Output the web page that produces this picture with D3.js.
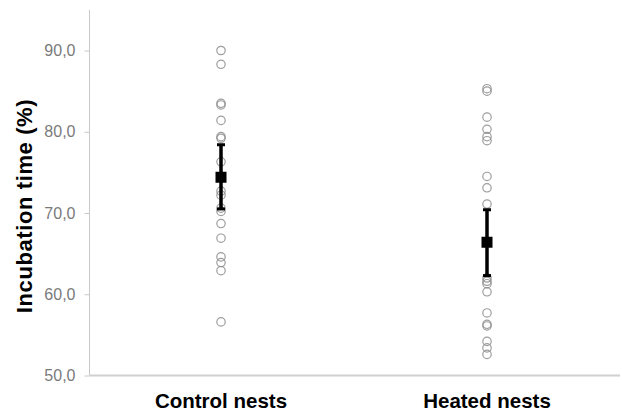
<!DOCTYPE html>
<html><head><meta charset="utf-8">
<script src="https://cdn.jsdelivr.net/npm/d3@7"></script>
<style>body{margin:0;background:#fff}svg{display:block}text{font-family:"Liberation Sans",Arial,sans-serif}</style>
</head><body><svg id="c" width="622" height="414"></svg>
<script>
const categories = ["Control nests", "Heated nests"];
const controlValues = [90.0, 88.3, 83.5, 83.3, 81.4, 79.4, 79.2, 76.3, 74.4, 72.7, 72.2, 70.6, 70.2, 68.7, 66.9, 64.6, 63.9, 62.9, 56.6];
const heatedValues = [85.3, 85.0, 81.8, 80.3, 79.4, 78.9, 74.5, 73.1, 71.1, 62.0, 61.6, 61.3, 60.3, 57.7, 56.3, 56.1, 54.2, 53.4, 52.6];
const means = [74.4, 66.4];
const errLow = [70.5, 62.3];
const errHigh = [78.4, 70.4];
const yTicks = [50, 60, 70, 80, 90];

const svg = d3.select("#c");
const y = d3.scaleLinear().domain([50, 90]).range([375.5, 50.5]);
const x = d3.scalePoint().domain(categories).range([221, 487]);

// axes lines
svg.append("line").attr("x1", 89.5).attr("x2", 89.5).attr("y1", y(95)).attr("y2", y(50))
  .attr("stroke", "#c8c8c8").attr("stroke-width", 1);
svg.append("line").attr("x1", 89.5).attr("x2", 620).attr("y1", y(50)).attr("y2", y(50))
  .attr("stroke", "#d0d0d0").attr("stroke-width", 2);

const yAxis = d3.axisLeft(y).tickValues(yTicks).tickSize(5).tickPadding(9)
  .tickFormat(d => d3.format(".1f")(d).replace(".", ","));
const gy = svg.append("g").attr("transform", "translate(89.5,0)").call(yAxis);
gy.select(".domain").remove();
gy.selectAll(".tick line").attr("stroke", "#c8c8c8");
gy.selectAll(".tick text").attr("fill", "#7a7a7a").style("font-size", "16px")
  .style("font-family", "'Liberation Sans',Arial,sans-serif");

// category labels
svg.selectAll(".cat").data(categories).enter().append("text")
  .attr("x", d => x(d)).attr("y", 408).attr("text-anchor", "middle")
  .style("font-size", "20.5px").style("font-weight", "bold").attr("fill", "#000").text(d => d);

// y title
svg.append("text").attr("transform", "translate(32,206) rotate(-90)")
  .attr("text-anchor", "middle").style("font-size", "22px").style("font-weight", "bold")
  .style("letter-spacing", "0.6px")
  .text("Incubation time (%)");

// points
const series = [controlValues, heatedValues];
series.forEach((vals, i) => {
  svg.append("g").selectAll("circle").data(vals).enter().append("circle")
    .attr("cx", x(categories[i])).attr("cy", d => y(d)).attr("r", 4.2)
    .attr("fill", "none").attr("stroke", "#8c8c8c").attr("stroke-width", 1.2).attr("stroke-opacity", 0.85);
});

// error bars and means
categories.forEach((c, i) => {
  const cx = x(c);
  svg.append("line").attr("x1", cx).attr("x2", cx).attr("y1", y(errHigh[i])).attr("y2", y(errLow[i]))
    .attr("stroke", "#000").attr("stroke-width", 3.5);
  [errHigh[i], errLow[i]].forEach(v => {
    svg.append("line").attr("x1", cx - 4).attr("x2", cx + 4).attr("y1", y(v)).attr("y2", y(v))
      .attr("stroke", "#000").attr("stroke-width", 3);
  });
  svg.append("rect").attr("x", cx - 5.5).attr("y", y(means[i]) - 5.5).attr("width", 11).attr("height", 11)
    .attr("fill", "#000");
});
</script></body></html>
